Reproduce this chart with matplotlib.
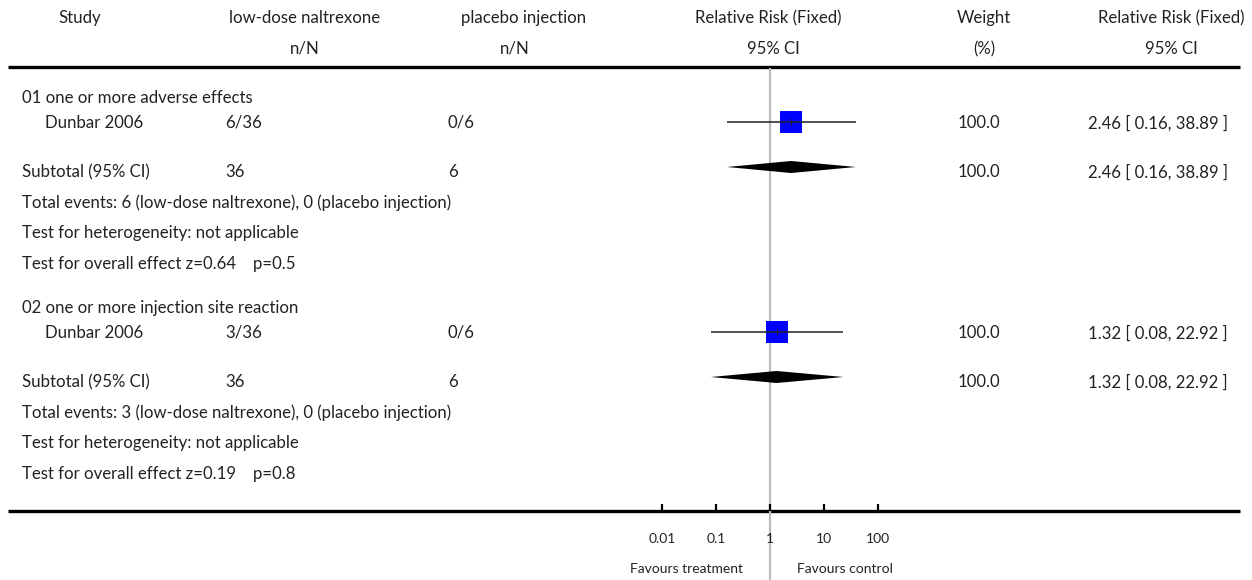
import matplotlib.pyplot as plt

# data
groups = ["01 one or more adverse effects", "02 one or more injection site reaction"]
studies = ["Dunbar 2006", "Dunbar 2006"]
treat_events = [6, 3]
treat_total = [36, 36]
ctrl_events = [0, 0]
ctrl_total = [6, 6]
rr = [2.46, 1.32]
ci_lo = [0.16, 0.08]
ci_hi = [38.89, 22.92]
weight = [100.0, 100.0]
z_vals = [0.64, 0.19]
p_vals = [0.5, 0.8]
tick_vals = [0.01, 0.1, 1, 10, 100]
tick_labels = ["0.01", "0.1", "1", "10", "100"]

plt.rcParams['font.family'] = ['Lato', 'DejaVu Sans']
FS = 12.1
TC = '#222222'

fig = plt.figure(figsize=(12.52, 5.8), dpi=100)
ax = fig.add_axes([0, 0, 1, 1])
ax.set_xlim(0, 1252)
ax.set_ylim(580, 0)
ax.axis('off')

# forest panel: log scale, 1 at x=770 px, 54 px per decade
left_px, right_px = 620, 920
dec = 54.0
fx = fig.add_axes([left_px / 1252, 0, (right_px - left_px) / 1252, 1])
fx.set_xscale('log')
fx.set_xlim(10 ** (-(770 - left_px) / dec), 10 ** ((right_px - 770) / dec))
fx.set_ylim(580, 0)
fx.patch.set_alpha(0)
for s in fx.spines.values():
    s.set_visible(False)
fx.spines['bottom'].set_position(('data', 511))
fx.set_yticks([])
fx.set_xticks(tick_vals)
fx.set_xticklabels(tick_labels)
fx.minorticks_off()
fx.tick_params(axis='x', direction='in', length=5, width=1.6, color='black',
               labelsize=10, labelcolor=TC, pad=16)

# header
def t(x, y, s, ha='left', size=FS):
    ax.text(x, y, s, ha=ha, va='center', fontsize=size, color=TC)

t(80, 18, "Study", 'center')
t(305, 18, "low-dose naltrexone", 'center')
t(320, 49, "n/N", 'right')
t(524, 18, "placebo injection", 'center')
t(530, 49, "n/N", 'right')
t(768, 18, "Relative Risk (Fixed)", 'center')
t(773, 49, "95% CI", 'center')
t(984, 18, "Weight", 'center')
t(984, 49, "(%)", 'center')
t(1171, 18, "Relative Risk (Fixed)", 'center')
t(1171, 49, "95% CI", 'center')

ax.hlines([67, 511], 8, 1240, color='black', lw=2.4)
fx.vlines(1, 68, 580, color='#bdbdbd', lw=1.6, zorder=1)

for i in range(len(groups)):
    y0 = 98 + 210 * i
    ys, ysub = y0 + 25, y0 + 74
    t(22, y0, groups[i])
    t(45, ys, studies[i])
    t(225, ys, f"{treat_events[i]}/{treat_total[i]}")
    t(448, ys, f"{ctrl_events[i]}/{ctrl_total[i]}")
    t(958, ys, f"{weight[i]:.1f}")
    t(1088, ys, f"{rr[i]:.2f} [ {ci_lo[i]:.2f}, {ci_hi[i]:.2f} ]")
    t(22, ysub, "Subtotal (95% CI)")
    t(225, ysub, str(treat_total[i]))
    t(448, ysub, str(ctrl_total[i]))
    t(958, ysub, f"{weight[i]:.1f}")
    t(1088, ysub, f"{rr[i]:.2f} [ {ci_lo[i]:.2f}, {ci_hi[i]:.2f} ]")
    t(22, y0 + 105, f"Total events: {treat_events[i]} (low-dose naltrexone), "
                    f"{ctrl_events[i]} (placebo injection)")
    t(22, y0 + 135, "Test for heterogeneity: not applicable")
    t(22, y0 + 166, f"Test for overall effect z={z_vals[i]:.2f}    p={p_vals[i]}")

    # study square and CI
    fx.plot([rr[i]], [ys - 1], marker='s', ms=15.5, mew=0, color='#0000ff', zorder=2)
    fx.hlines(ys - 1, ci_lo[i], ci_hi[i], color='#222222', lw=1.1, zorder=3)
    fx.vlines(rr[i], ys - 4, ys + 2, color='#222222', lw=0.8, zorder=3)
    # subtotal diamond
    yd = ysub - 5
    fx.fill([ci_lo[i], rr[i], ci_hi[i], rr[i]], [yd, yd - 6, yd, yd + 6],
            color='black', lw=0, zorder=3)

ax.text(743, 569, "Favours treatment", ha='right', va='center', fontsize=10, color=TC)
ax.text(797, 569, "Favours control", ha='left', va='center', fontsize=10, color=TC)

fig.savefig("out.png", dpi=100)
